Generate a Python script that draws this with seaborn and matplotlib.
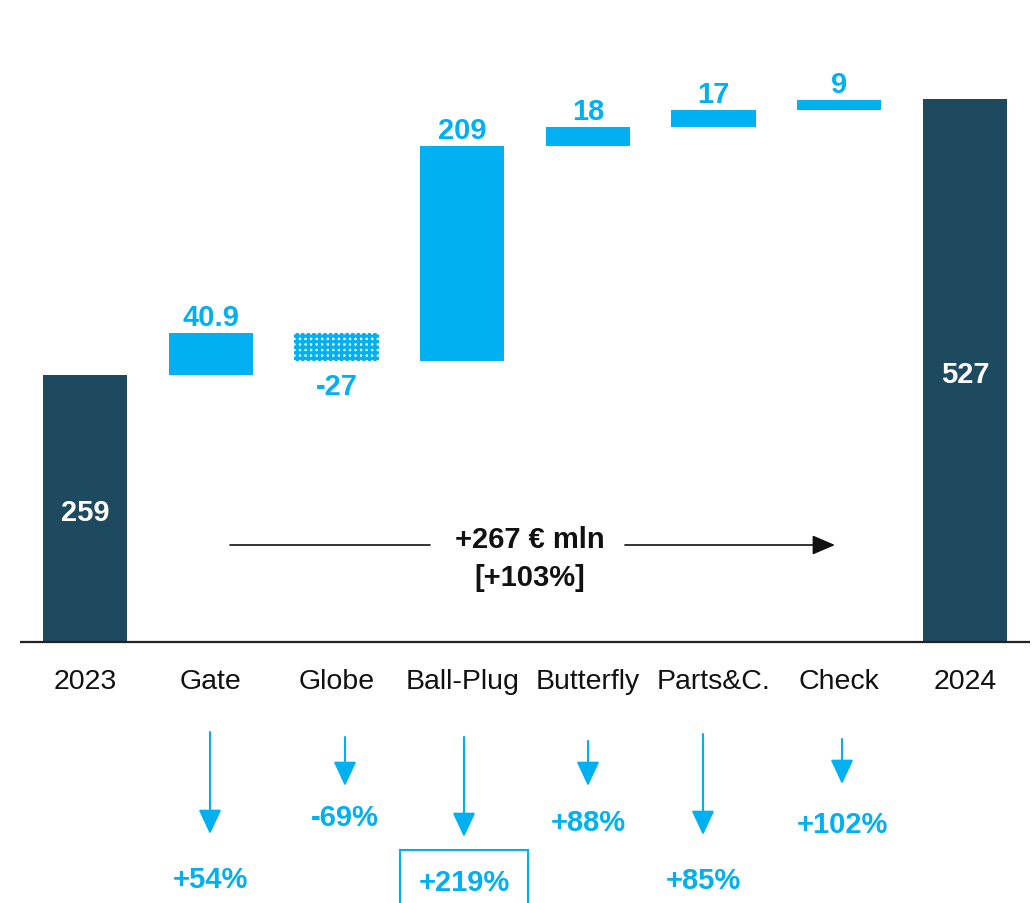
import numpy as np
import pandas as pd
import matplotlib
matplotlib.use("Agg")
import matplotlib.pyplot as plt
import seaborn as sns

# ---------------- data ----------------
categories = ["2023", "Gate", "Globe", "Ball-Plug", "Butterfly", "Parts&C.", "Check", "2024"]
deltas = [259, 40.9, -27, 209, 18, 17, 9, 527]
value_labels = ["259", "40.9", "-27", "209", "18", "17", "9", "527"]
is_total = [True, False, False, False, False, False, False, True]
growth_labels = ["+54%", "-69%", "+219%", "+88%", "+85%", "+102%"]
total_change = "+267 € mln"
total_change_pct = "[+103%]"

# ---------------- style ----------------
sns.set_style("white")
plt.rcParams["font.family"] = ["Liberation Sans", "DejaVu Sans"]

DARK = "#1E4A60"
CYAN = "#00B0F0"

W, H = 1035, 904
fig = plt.figure(figsize=(W / 100, H / 100), dpi=100)
ax = fig.add_axes([0, 0, 1, 1])

# pixel -> data helpers (layout only)
X0, DX = 85.0, 125.7
Y0, DY = 643.0, 1.03
def px_x(p):
    return (p - X0) / DX
def px_y(p):
    return (Y0 - p) / DY
def ty(p):  # text center (compensate for descent in bbox centering)
    return px_y(p + 3)

# waterfall geometry from data
bottoms, heights = [], []
run = 0.0
for d, tot in zip(deltas, is_total):
    if tot:
        bottoms.append(0.0); heights.append(d); run = d
    else:
        lo = min(run, run + d)
        bottoms.append(lo); heights.append(abs(d)); run = run + d

df = pd.DataFrame({"cat": categories, "bottom": bottoms, "height": heights,
                   "delta": deltas, "total": is_total})

tot_df = df[df.total]
pos_df = df[(~df.total) & (df.delta > 0)]
neg_df = df[(~df.total) & (df.delta < 0)]

sns.barplot(data=tot_df, x="cat", y="height", order=categories, color=DARK,
            saturation=1, width=0.67, ax=ax, linewidth=0, errorbar=None)
sns.barplot(data=pos_df, x="cat", y="height", order=categories, color=CYAN,
            saturation=1, width=0.67, ax=ax, linewidth=0, errorbar=None,
            bottom=pos_df["bottom"].values)
plt.rcParams["hatch.linewidth"] = 2.3
sns.barplot(data=neg_df, x="cat", y="height", order=categories, color="white",
            saturation=1, width=0.67, ax=ax, linewidth=0, errorbar=None,
            bottom=neg_df["bottom"].values, hatch="+++", edgecolor=CYAN)

ax.set_xlim(px_x(0), px_x(W))
ax.set_ylim(px_y(H), px_y(0))
ax.axis("off")

# baseline
ax.plot([px_x(20), px_x(1030)], [0, 0], color="#222222", lw=1.6, solid_capstyle="butt")

# category labels
for i, c in enumerate(categories):
    ax.text(i, ty(679), c, ha="center", va="center", fontsize=20.5, color="#111111")

# value labels
for i, row in df.iterrows():
    if row.total:
        ax.annotate(value_labels[i], (i, row.height / 2), xytext=(0, -2.5),
                    textcoords="offset points", ha="center", va="center",
                    fontsize=21, fontweight="bold", color="white")
    elif row.delta > 0:
        ax.annotate(value_labels[i], (i, row.bottom + row.height), xytext=(0, 1.5),
                    textcoords="offset points", ha="center", va="bottom",
                    fontsize=21, fontweight="bold", color=CYAN)
    else:
        ax.annotate(value_labels[i], (i, row.bottom), xytext=(0, -8),
                    textcoords="offset points", ha="center", va="top",
                    fontsize=21, fontweight="bold", color=CYAN)

# growth arrows (layout in pixels)
arrow_layout = [  # x, y_start, y_end, label_y
    (210, 733, 835, 877),
    (345, 738, 787, 815),
    (464, 738, 838, 880),
    (588, 742, 787, 820),
    (703, 735, 836, 878),
    (842, 740, 785, 822),
]
for k, (lab, (xp, ys, ye, ly)) in enumerate(zip(growth_labels, arrow_layout)):
    ax.annotate("", xy=(px_x(xp), px_y(ye)), xytext=(px_x(xp), px_y(ys)),
                arrowprops=dict(arrowstyle="-|>,head_length=0.75,head_width=0.35",
                                color=CYAN, lw=1.5, shrinkA=0, shrinkB=0,
                                mutation_scale=20))
    kw = {}
    if lab == "+219%":
        kw["bbox"] = dict(boxstyle="square,pad=0.62", fc="white", ec=CYAN, lw=1.5)
    ax.text(px_x(xp), ty(ly), lab,
            ha="center", va="center", fontsize=21, fontweight="bold", color=CYAN, **kw)

# total change arrow
yc = px_y(546)
ax.plot([px_x(230), px_x(430)], [yc, yc], color="#111111", lw=1.2)
ax.annotate("", xy=(px_x(835), yc), xytext=(px_x(625), yc),
            arrowprops=dict(arrowstyle="-|>,head_length=0.7,head_width=0.3",
                            color="#111111", lw=1.2, shrinkA=0, shrinkB=0,
                            mutation_scale=20))
ax.text(px_x(530), ty(537), total_change, ha="center", va="center",
        fontsize=21, fontweight="bold", color="#111111")
ax.text(px_x(530), ty(575), total_change_pct, ha="center", va="center",
        fontsize=21, fontweight="bold", color="#111111")

fig.savefig("out.png", dpi=100)
